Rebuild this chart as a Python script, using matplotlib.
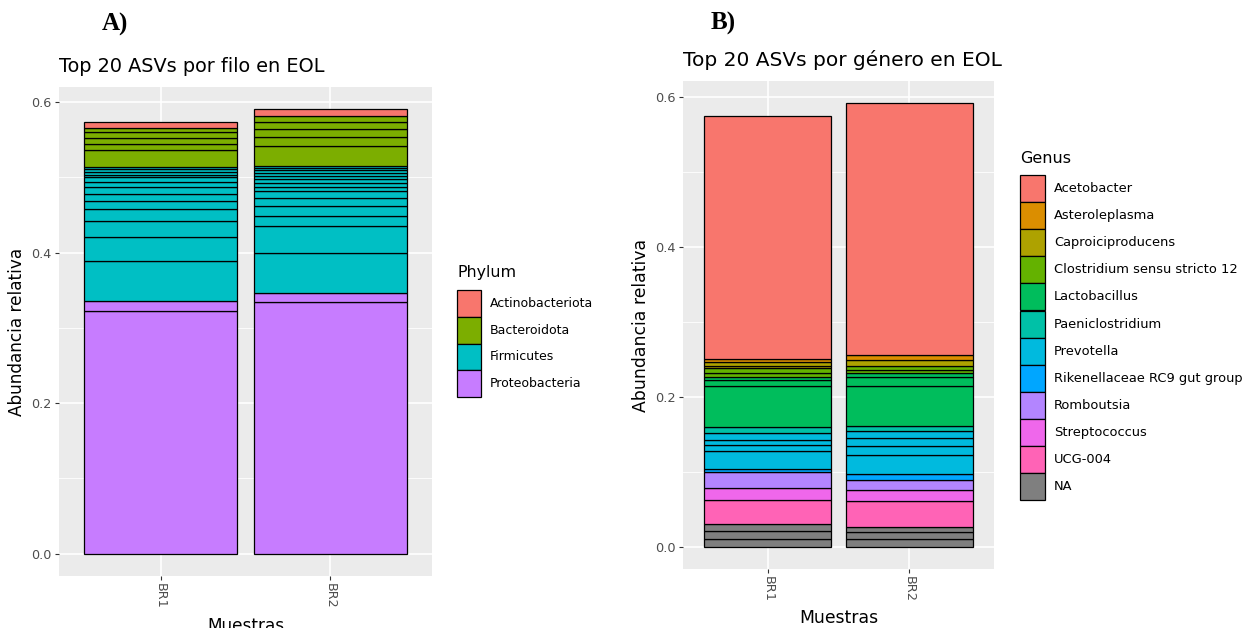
import numpy as np
import matplotlib.pyplot as plt
from matplotlib.patches import Rectangle

W, H = 1242, 628

samples = ["BR1", "BR2"]

phyla = ["Actinobacteriota", "Bacteroidota", "Firmicutes", "Proteobacteria"]
phylum_colors = ["#F8766D", "#7CAE00", "#00BFC4", "#C77CFF"]

# ASV abundances inside each phylum, bottom to top of the stack
phylum_br1 = {
    "Proteobacteria": [0.3224, 0.0132],
    "Firmicutes": [0.0530, 0.0327, 0.0212, 0.0159, 0.0106, 0.0088, 0.0088,
                   0.0071, 0.0062, 0.0035, 0.0035, 0.0035, 0.0035],
    "Bacteroidota": [0.0221, 0.0079, 0.0080, 0.0079, 0.0057],
    "Actinobacteriota": [0.0076],
}
phylum_br2 = {
    "Proteobacteria": [0.3343, 0.0124],
    "Firmicutes": [0.0529, 0.0354, 0.0141, 0.0132, 0.0106, 0.0089, 0.0053,
                   0.0053, 0.0053, 0.0044, 0.0035, 0.0035, 0.0031, 0.0031],
    "Bacteroidota": [0.0261, 0.0119, 0.0106, 0.0097, 0.0075],
    "Actinobacteriota": [0.0093],
}

genera = ["Acetobacter", "Asteroleplasma", "Caproiciproducens",
          "Clostridium sensu stricto 12", "Lactobacillus", "Paeniclostridium",
          "Prevotella", "Rikenellaceae RC9 gut group", "Romboutsia",
          "Streptococcus", "UCG-004", "NA"]
genus_colors = ["#F8766D", "#DB8E00", "#AEA200", "#64B200", "#00BD5C", "#00C1A7",
                "#00BADE", "#00A6FF", "#B385FF", "#EF67EB", "#FF63B6", "#7F7F7F"]

genus_br1 = {
    "NA": [0.0105, 0.0107, 0.0088],
    "UCG-004": [0.0319],
    "Streptococcus": [0.0160],
    "Romboutsia": [0.0221],
    "Rikenellaceae RC9 gut group": [0.0044],
    "Prevotella": [0.0230, 0.0080, 0.0071, 0.0089],
    "Paeniclostridium": [0.0088],
    "Lactobacillus": [0.0540, 0.0080, 0.0044],
    "Clostridium sensu stricto 12": [0.0054, 0.0062],
    "Caproiciproducens": [0.0035, 0.0044],
    "Asteroleplasma": [0.0045],
    "Acetobacter": [0.3234],
}
genus_br2 = {
    "NA": [0.0105, 0.0098, 0.0062],
    "UCG-004": [0.0345],
    "Streptococcus": [0.0151],
    "Romboutsia": [0.0124],
    "Rikenellaceae RC9 gut group": [0.0088],
    "Prevotella": [0.0257, 0.0115, 0.0107, 0.0097],
    "Paeniclostridium": [0.0062],
    "Lactobacillus": [0.0531, 0.0116, 0.0053],
    "Clostridium sensu stricto 12": [0.0044, 0.0053],
    "Caproiciproducens": [0.0089],
    "Asteroleplasma": [0.0062],
    "Acetobacter": [0.3356],
}


def fx(px):
    return px / W


def fy(py):
    return 1 - py / H


def stacked(ax, per_sample, taxa, colors):
    tops = []
    for i, data in enumerate(per_sample):
        bottom = 0.0
        for taxon, col in zip(reversed(taxa), reversed(colors)):
            for v in data[taxon]:
                ax.bar(i, v, bottom=bottom, width=0.9, color=col,
                       edgecolor="black", linewidth=0.9, zorder=3)
                bottom += v
        tops.append(bottom)
    top = max(tops)
    ax.set_ylim(-0.05 * top, top * 1.05)
    ax.set_xlim(-0.6, 1.6)


def gg_style(ax, tick_fs, lab_fs):
    ax.set_facecolor("#EBEBEB")
    for s in ax.spines.values():
        s.set_visible(False)
    ax.set_yticks([0, 0.2, 0.4, 0.6])
    ax.set_yticklabels(["0.0", "0.2", "0.4", "0.6"])
    ax.set_yticks([0.1, 0.3, 0.5], minor=True)
    ax.set_xticks([0, 1])
    ax.set_xticklabels(samples, rotation=270)
    ax.grid(which="major", color="white", linewidth=1.2, zorder=0)
    ax.grid(which="minor", axis="y", color="white", linewidth=0.6, zorder=0)
    ax.tick_params(which="major", length=3.2, width=0.8, color="#333333",
                   labelcolor="#4D4D4D", labelsize=tick_fs, pad=2)
    ax.tick_params(which="minor", length=0)
    ax.set_ylabel("Abundancia relativa", fontsize=lab_fs, color="black", labelpad=4)
    ax.set_xlabel("Muestras", fontsize=lab_fs, color="black")


def legend(fig, title, labels, colors, x, y_title, y_keys, kw, kh, title_fs, text_fs):
    fig.text(fx(x), fy(y_title), title, fontsize=title_fs, ha="left", va="center")
    for i, (lab, col) in enumerate(zip(labels, colors)):
        ky = y_keys + i * kh
        fig.patches.append(Rectangle((fx(x), fy(ky + kh)), kw / W, kh / H,
                                     transform=fig.transFigure, facecolor=col,
                                     edgecolor="black", linewidth=0.9))
        fig.text(fx(x + kw + 9), fy(ky + kh / 2), lab, fontsize=text_fs,
                 ha="left", va="center")


fig = plt.figure(figsize=(W / 100, H / 100), dpi=100)

# panel A
axA = fig.add_axes([fx(59), fy(576), (432 - 59) / W, (576 - 87) / H])
stacked(axA, [phylum_br1, phylum_br2], phyla, phylum_colors)
gg_style(axA, 9.2, 12.2)
axA.xaxis.set_label_coords(0.5, -(617 - 576) / (576 - 87))
axA.set_title("Top 20 ASVs por filo en EOL", fontsize=13.9, loc="left", pad=11)
legend(fig, "Phylum", phyla, phylum_colors, 457, 273, 290, 24, 26.8, 11.4, 9)
fig.text(fx(102), fy(24), "A)", fontsize=18, fontweight="bold",
         family="Liberation Serif", ha="left", va="center")

# panel B
axB = fig.add_axes([fx(683), fy(569), (994 - 683) / W, (569 - 81) / H])
stacked(axB, [genus_br1, genus_br2], genera, genus_colors)
gg_style(axB, 9.3, 12.4)
axB.xaxis.set_label_coords(0.5, -(609 - 569) / (569 - 81))
axB.set_title("Top 20 ASVs por género en EOL", fontsize=14.5, loc="left", pad=11)
legend(fig, "Genus", genera, genus_colors, 1020, 158, 175, 25, 27.1, 11.5, 9.4)
fig.text(fx(711), fy(23), "B)", fontsize=18, fontweight="bold",
         family="Liberation Serif", ha="left", va="center")

fig.savefig("out.png", dpi=100, facecolor="white")
